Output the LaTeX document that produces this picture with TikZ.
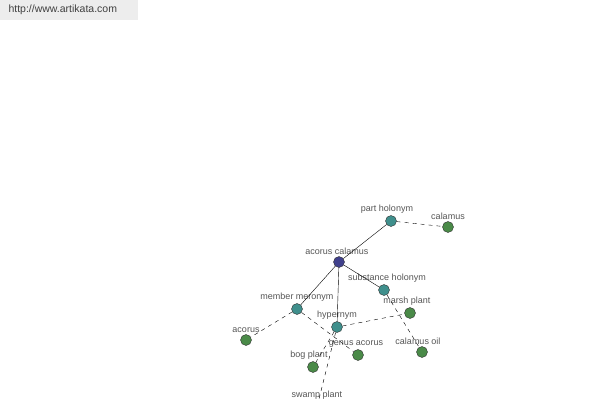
\documentclass[tikz,border=0pt]{standalone}
\usepackage{fontspec}
\setmainfont{Liberation Sans}
\usetikzlibrary{positioning}
\definecolor{hubblue}{HTML}{40408C}
\definecolor{relteal}{HTML}{3F8F8C}
\definecolor{wordgreen}{HTML}{4A8A48}
\definecolor{labelgray}{HTML}{555555}
\begin{document}
\begin{tikzpicture}[x=1pt, y=-1pt, thin,
    word/.style={draw=black!80, circle, inner sep=0pt, minimum size=11pt, fill=#1},
    lab/.style={text=labelgray, font=\fontsize{9}{10}\selectfont, inner sep=1pt, yshift=1pt},
    rel/.style={draw=black},
    link/.style={draw=black, dashed, dash pattern=on 4pt off 4pt}]
        \useasboundingbox (0,0) rectangle (600,400);
        \clip (0,0) rectangle (600,400);
        \fill[black!7] (0,0) rectangle (138,20);
        \node[anchor=west, text=black!75, font=\fontsize{10.5}{12}\selectfont] (site) at (5,10) {http://www.artikata.com};

        \node[word=hubblue, label={[lab, xshift=-2pt]above:acorus calamus}] (ac) at (339,262) {};
        \node[word=relteal, label={[lab, xshift=-4pt]above:part holonym}] (ph) at (391,221) {};
        \node[word=relteal, label={[lab, xshift=3pt]above:substance holonym}] (sh) at (384,290) {};
        \node[word=relteal, label={[lab]above:member meronym}] (mm) at (297,309) {};
        \node[word=relteal, label={[lab]above:hypernym}] (hy) at (337,327) {};

        \node[word=wordgreen, label={[lab]above:calamus}] (cal) at (448,227) {};
        \node[word=wordgreen, label={[lab, xshift=-4pt]above:calamus oil}] (oil) at (422,352) {};
        \node[word=wordgreen, label={[lab, xshift=-3pt]above:marsh plant}] (mp) at (410,313) {};
        \node[word=wordgreen, label={[lab]above:acorus}] (aco) at (246,340) {};
        \node[word=wordgreen, label={[lab, xshift=-2pt]above:genus acorus}] (ga) at (358,355) {};
        \node[word=wordgreen, label={[lab, xshift=-4pt]above:bog plant}] (bp) at (313,367) {};
        \node[word=wordgreen, label={[lab]above:swamp plant}] (sp) at (317,407) {};

        \draw[rel] (ac) -- (ph);
        \draw[rel] (ac) -- (sh);
        \draw[rel] (ac) -- (mm);
        \draw[rel] (ac) -- (hy);

        \draw[link] (ph) -- (cal);
        \draw[link] (sh) -- (oil);
        \draw[link] (mm) -- (aco);
        \draw[link] (mm) -- (ga);
        \draw[link] (hy) -- (mp);
        \draw[link] (hy) -- (bp);
        \draw[link] (hy) -- (sp);
    \end{tikzpicture}
\end{document}
